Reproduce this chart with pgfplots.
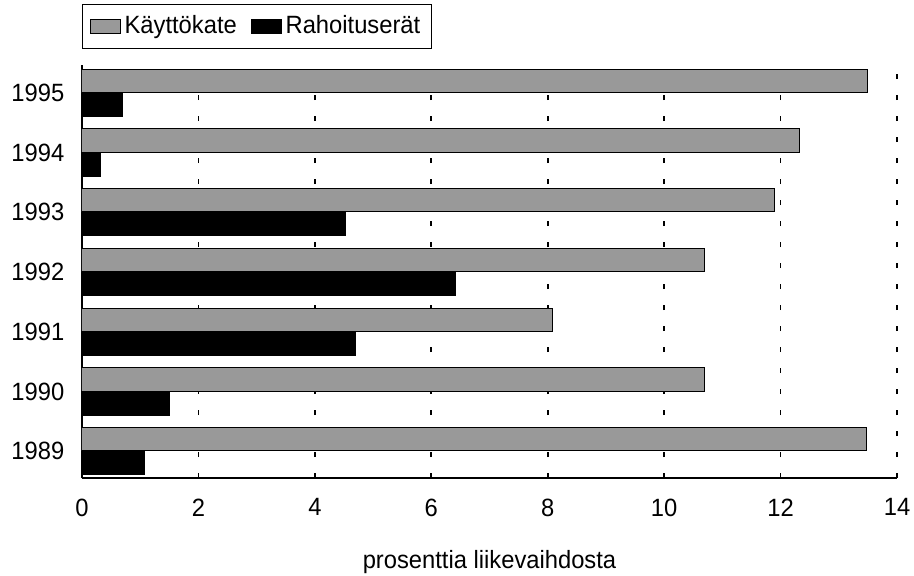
\documentclass[border=0pt]{standalone}
\usepackage{fontspec}
\setmainfont[FakeStretch=0.95]{Liberation Sans}
\usepackage{pgfplots}
\pgfplotsset{compat=1.18}
\begin{document}
\fontsize{12.5}{14}\selectfont
\begin{tikzpicture}
\useasboundingbox (-41pt,-48.5pt) rectangle (416pt,239pt);
\begin{axis}[
  at={(0,0)}, anchor=south west,
  scale only axis, width=407.5pt, height=206.5pt,
  xbar, xmin=0, xmax=14, ymin=-0.45, ymax=6.466,
  bar width=0.39,
  ytick={0,...,6}, yticklabels={1989,1990,1991,1992,1993,1994,1995},
  xtick={0,2,...,14},
  /pgf/number format/assume math mode=true,
  axis x line*=bottom, axis y line*=left,
  axis line style={-, line width=0.75pt},
  major tick length=0pt,
  xmajorgrids,
  major grid style={black, line width=0.9pt, dash pattern=on 2.5pt off 8pt},
  ticklabel style={font=\fontsize{12.5}{14}\selectfont},
  xticklabel style={yshift=-6pt},
  yticklabel style={xshift=-4.5pt},
  xlabel={prosenttia liikevaihdosta},
  xlabel style={at={(axis description cs:0.5,0)}, anchor=base, yshift=-45pt, font=\fontsize{12.5}{14}\selectfont},
  legend style={at={(rel axis cs:0,1)}, anchor=south west, yshift=8pt,
    draw=black, line width=0.6pt, inner xsep=3.5pt, inner ysep=3.5pt,
    font=\fontsize{12.5}{14}\selectfont,
    /tikz/every even column/.append style={column sep=5pt}},
  legend columns=-1,
  legend image code/.code={\fill[#1] (0pt,-3.5pt) rectangle (15pt,3.5pt);},
]
\addplot[fill=black!40, draw=black, line width=0.5pt, bar shift=0.2]
  coordinates {(13.48,0) (10.70,1) (8.09,2) (10.70,3) (11.90,4) (12.32,5) (13.50,6)};
\addplot[fill=black, draw=black, line width=0.4pt, bar shift=-0.2]
  coordinates {(1.08,0) (1.50,1) (4.69,2) (6.41,3) (4.52,4) (0.31,5) (0.70,6)};
\legend{Käyttökate, Rahoituserät}
\end{axis}
\end{tikzpicture}
\end{document}
